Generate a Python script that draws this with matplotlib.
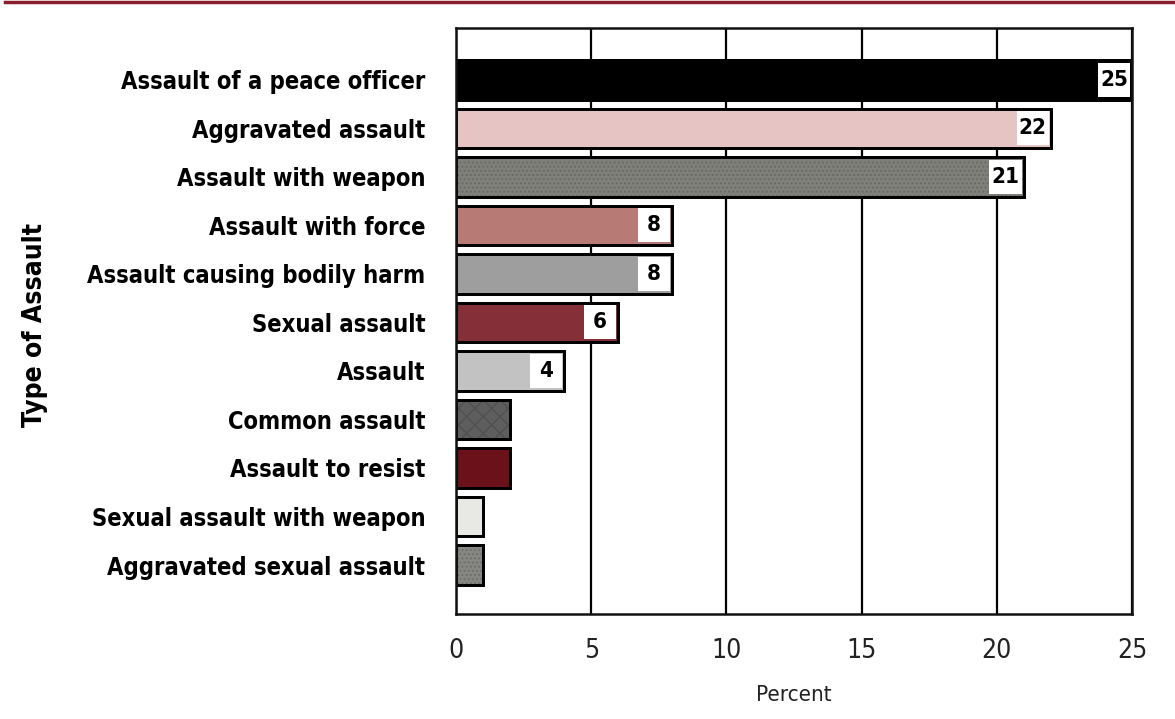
import matplotlib
matplotlib.use("Agg")
import matplotlib.pyplot as plt
from matplotlib.lines import Line2D

categories = [
    "Assault of a peace officer",
    "Aggravated assault",
    "Assault with weapon",
    "Assault with force",
    "Assault causing bodily harm",
    "Sexual assault",
    "Assault",
    "Common assault",
    "Assault to resist",
    "Sexual assault with weapon",
    "Aggravated sexual assault",
]
values = [25, 22, 21, 8, 8, 6, 4, 2, 2, 1, 1]
show_label = [True, True, True, True, True, True, True, False, False, False, False]
colors = ["#000000", "#e6c4c4", "#80807b", "#b87a74", "#9e9e9e", "#852f39",
          "#c2c2c2", "#5e5e5e", "#6b1119", "#e8e8e4", "#868682"]
hatches = [None, None, "....", None, None, None, None, "xx", None, None, "...."]
xticks = [0, 5, 10, 15, 20, 25]

FONT = ["DejaVu Sans"]
ST = "condensed"

W, H = 1175, 719
fig = plt.figure(figsize=(W / 100, H / 100), dpi=100)
ax = fig.add_axes([456 / W, (H - 614) / H, (1132 - 456) / W, (614 - 28) / H])

BAR_H = 0.82
BOX_W = 1.2
BOX_GAP = 0.07
BOX_H = 0.70

y = list(range(len(categories)))
ax.barh(y, values, height=BAR_H, color=colors, edgecolor="black", linewidth=2, zorder=3)
for i, (v, h) in enumerate(zip(values, hatches)):
    if h:
        ax.barh(i, v, height=BAR_H, fill=False, hatch=h, edgecolor=(0, 0, 0, 0.15),
                linewidth=0, zorder=3.5)

for i, (v, s) in enumerate(zip(values, show_label)):
    if s:
        left = v - BOX_GAP - BOX_W
        ax.barh(i, BOX_W, left=left, height=BOX_H, color="white", linewidth=0, zorder=5)
        ax.text(left + BOX_W / 2, i, str(v), ha="center", va="center", fontsize=16,
                fontweight="bold", family=FONT, fontstretch=ST, color="black", zorder=6)

ax.barh(y, values, height=BAR_H, fill=False, edgecolor="black", linewidth=2, zorder=7)

ax.set_xlim(0, 25)
ax.set_ylim(11.01, -1.07)
ax.set_xticks(xticks)
ax.set_xticklabels([str(t) for t in xticks], family=FONT, fontstretch=ST,
                   fontsize=19, color="#222222")
ax.set_yticks(y)
ax.set_yticklabels(categories, family=FONT, fontstretch=ST, fontsize=17, fontweight="bold")
ax.tick_params(axis="both", length=0)
ax.tick_params(axis="x", pad=17)
ax.tick_params(axis="y", pad=22)
ax.xaxis.grid(True, color="black", linewidth=1.6, zorder=0)
ax.set_axisbelow(True)
for sp in ax.spines.values():
    sp.set_linewidth(1.8)
    sp.set_color("#111111")
    sp.set_zorder(8)

fig.text(35 / W, 1 - 325 / H, "Type of Assault", rotation=90, ha="center", va="center",
         family=FONT, fontstretch=ST, fontsize=19, fontweight="bold")
fig.text((456 + 1132) / 2 / W, 1 - 695 / H, "Percent", ha="center", va="center",
         family=FONT, fontstretch=ST, fontsize=16, color="#222222")

fig.add_artist(Line2D([5 / W, 1], [1 - 1.5 / H, 1 - 1.5 / H], color="#8b1e2e",
                      linewidth=2.5, transform=fig.transFigure))

fig.savefig("out.png", dpi=100)
